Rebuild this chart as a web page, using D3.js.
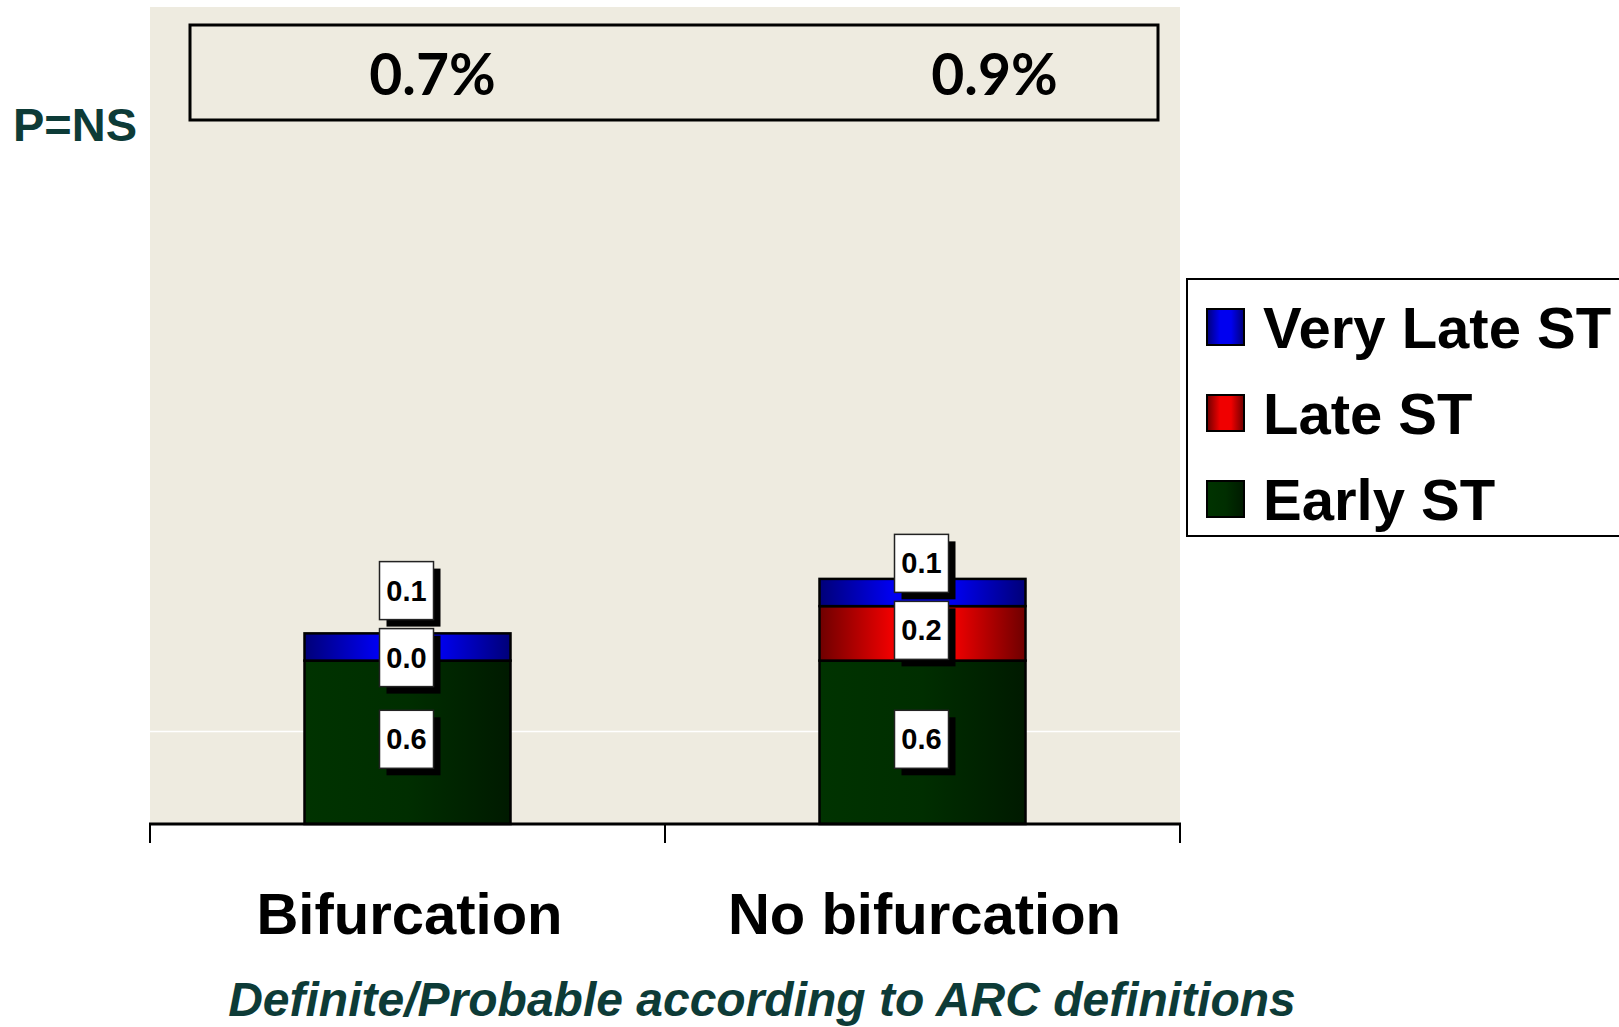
<!DOCTYPE html>
<html>
<head>
<meta charset="utf-8">
<script src="https://cdn.jsdelivr.net/npm/d3@7/dist/d3.min.js"></script>
<style>
  html, body { margin: 0; padding: 0; background: #ffffff; }
  svg { display: block; }
</style>
</head>
<body>
<svg id="chart" width="1619" height="1027"></svg>
<script>
// ---- data ----
const categories = ["Bifurcation", "No bifurcation"];
const seriesNames = ["Early ST", "Late ST", "Very Late ST"];
const earlyST = [0.6, 0.6];
const lateST = [0.0, 0.2];
const veryLateST = [0.1, 0.1];
const gridValues = [0.34];
const pLabel = "P=NS";
const subtitle = "Definite/Probable according to ARC definitions";

const W = 1619, H = 1027;
const svg = d3.select("#chart");
const plot = { left: 150, right: 1180, top: 7, bottom: 824 };

const x = d3.scaleBand().domain(categories).range([plot.left, plot.right]).padding(0);
const y = d3.scaleLinear().domain([0, 3]).range([plot.bottom, plot.top]);
const barW = x.bandwidth() * 0.4;

const rows = categories.map((c, i) => ({ cat: c, "Early ST": earlyST[i], "Late ST": lateST[i], "Very Late ST": veryLateST[i] }));
const stack = d3.stack().keys(seriesNames)(rows);

// gradients
const defs = svg.append("defs");
function grad(id, stops) {
  const g = defs.append("linearGradient").attr("id", id).attr("x1", "0%").attr("x2", "100%").attr("y1", "0%").attr("y2", "0%");
  stops.forEach(s => g.append("stop").attr("offset", s[0]).attr("stop-color", s[1]));
}
grad("gGreen", [["0%", "#003300"], ["50%", "#002e00"], ["100%", "#001a00"]]);
grad("gRed", [["0%", "#6e0000"], ["35%", "#f00000"], ["65%", "#f00000"], ["100%", "#6e0000"]]);
grad("gBlue", [["0%", "#000078"], ["35%", "#0000f0"], ["65%", "#0000f0"], ["100%", "#000078"]]);
const fills = { "Early ST": "url(#gGreen)", "Late ST": "url(#gRed)", "Very Late ST": "url(#gBlue)" };

// plot background
svg.append("rect").attr("x", plot.left).attr("y", plot.top)
  .attr("width", plot.right - plot.left).attr("height", plot.bottom - plot.top)
  .attr("fill", "#eeebe0");

// gridlines
svg.selectAll(".grid").data(gridValues).join("line")
  .attr("x1", plot.left).attr("x2", plot.right)
  .attr("y1", d => y(d)).attr("y2", d => y(d))
  .attr("stroke", "#ffffff").attr("stroke-width", 1.5);

// bars
stack.forEach(layer => {
  svg.selectAll(null).data(layer).join("rect")
    .attr("x", d => x(d.data.cat) + x.bandwidth() / 2 - barW / 2)
    .attr("width", barW)
    .attr("y", d => y(d[1]))
    .attr("height", d => y(d[0]) - y(d[1]))
    .attr("fill", fills[layer.key])
    .attr("stroke", "#000").attr("stroke-width", 2.5);
});

// totals box
const boxG = svg.append("g");
boxG.append("rect").attr("x", 190).attr("y", 25).attr("width", 968).attr("height", 95)
  .attr("fill", "#eeebe0").attr("stroke", "#000").attr("stroke-width", 3);
const totals = rows.map(r => r["Early ST"] + r["Late ST"] + r["Very Late ST"]);
const fmt = d3.format(".1f");
boxG.selectAll("text").data(totals).join("text")
  .attr("x", (d, i) => x(categories[i]) + x.bandwidth() / 2 + 25 + i * 47)
  .attr("y", 95)
  .attr("text-anchor", "middle")
  .attr("font-family", "Lato, sans-serif").attr("font-weight", "bold")
  .attr("font-size", 57).attr("fill", "#000")
  .text(d => fmt(d) + "%");

// data labels with collision avoidance
const minGap = 67;
const labels = [];
categories.forEach((c, ci) => {
  let prev = null;
  stack.forEach(layer => {
    const d = layer[ci];
    let ly = (y(d[0]) + y(d[1])) / 2 - 3;
    if (prev !== null && ly > prev - minGap) ly = prev - minGap;
    prev = ly;
    labels.push({ cx: x(c) + x.bandwidth() / 2 - 1, cy: ly, v: d[1] - d[0] });
  });
});
const bw = 54, bh = 58;
const lg = svg.selectAll(".lbl").data(labels).join("g").attr("class", "lbl")
  .attr("transform", d => `translate(${d.cx},${d.cy})`);
lg.append("rect").attr("x", -bw / 2 + 7).attr("y", -bh / 2 + 7).attr("width", bw).attr("height", bh).attr("fill", "#000");
lg.append("rect").attr("x", -bw / 2).attr("y", -bh / 2).attr("width", bw).attr("height", bh)
  .attr("fill", "#fff").attr("stroke", "#222").attr("stroke-width", 1.5);
lg.append("text").attr("text-anchor", "middle").attr("y", 10)
  .attr("font-family", "Liberation Sans, Arial, sans-serif").attr("font-weight", "bold")
  .attr("font-size", 29).attr("fill", "#000")
  .text(d => fmt(Math.abs(d.v)));

// x axis
const axisG = svg.append("g");
axisG.append("line").attr("x1", plot.left - 1).attr("x2", plot.right + 1)
  .attr("y1", plot.bottom).attr("y2", plot.bottom).attr("stroke", "#000").attr("stroke-width", 3);
const tickPos = categories.map(c => x(c)).concat([x.range()[1]]);
axisG.selectAll(".tick").data(tickPos).join("line")
  .attr("x1", d => d).attr("x2", d => d)
  .attr("y1", plot.bottom).attr("y2", plot.bottom + 19)
  .attr("stroke", "#000").attr("stroke-width", 2);
axisG.selectAll(".cat").data(categories).join("text")
  .attr("x", d => x(d) + x.bandwidth() / 2 + 2)
  .attr("y", 934)
  .attr("text-anchor", "middle")
  .attr("font-family", "Liberation Sans, Arial, sans-serif").attr("font-weight", "bold")
  .attr("font-size", 58).attr("fill", "#000")
  .text(d => d);

// P=NS
svg.append("text").attr("x", 13).attr("y", 141)
  .attr("font-family", "Liberation Sans, Arial, sans-serif").attr("font-weight", "bold")
  .attr("font-size", 47).attr("fill", "#0d3b37").text(pLabel);

// subtitle
svg.append("text").attr("x", 762).attr("y", 1016).attr("text-anchor", "middle")
  .attr("font-family", "Liberation Sans, Arial, sans-serif").attr("font-weight", "bold")
  .attr("font-style", "italic")
  .attr("font-size", 48).attr("fill", "#0d3b37").text(subtitle);

// legend
const legG = svg.append("g");
legG.append("rect").attr("x", 1187).attr("y", 279).attr("width", 500).attr("height", 257)
  .attr("fill", "#fff").attr("stroke", "#000").attr("stroke-width", 2);
const legItems = seriesNames.slice().reverse();
const li = legG.selectAll(".li").data(legItems).join("g")
  .attr("transform", (d, i) => `translate(1207,${327 + i * 86})`);
li.append("rect").attr("x", 0).attr("y", -18).attr("width", 37).attr("height", 36)
  .attr("fill", d => fills[d]).attr("stroke", "#000").attr("stroke-width", 2);
li.append("text").attr("x", 56).attr("y", 21)
  .attr("font-family", "Liberation Sans, Arial, sans-serif").attr("font-weight", "bold")
  .attr("font-size", 58).attr("fill", "#000").text(d => d);
</script>
</body>
</html>
